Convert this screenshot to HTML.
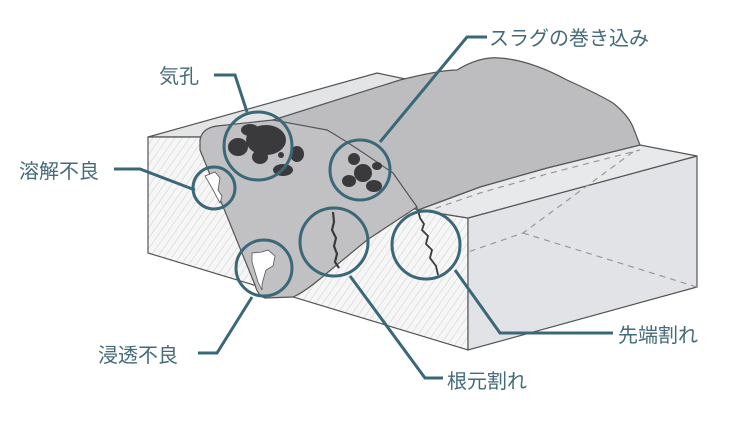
<!DOCTYPE html>
<html><head><meta charset="utf-8"><style>
html,body{margin:0;padding:0;background:#fff;}
svg{display:block;}
text{font-family:"Liberation Sans","Noto Sans CJK JP",sans-serif;font-size:20px;fill:#456b7a;}
</style></head><body>
<svg width="735" height="424" viewBox="0 0 735 424" xmlns="http://www.w3.org/2000/svg">
<defs>
<pattern id="h" patternUnits="userSpaceOnUse" width="6" height="6" patternTransform="rotate(35)">
<rect width="6" height="6" fill="#f6f6f6"/><line x1="0" y1="0" x2="0" y2="6" stroke="#d8d8d8" stroke-width="1.4"/>
</pattern>
</defs>
<polygon points="148,137 377,73 420,82 230,135 200,137" fill="#e3e4e6" stroke="#555" stroke-width="1.2"/>
<polygon points="148,137 200,137 418,210 468,218 468,350 148,253" fill="url(#h)" stroke="#555" stroke-width="1.2"/>
<polygon points="468,218 697,156 697,287 468,350" fill="#e2e3e6" stroke="#555" stroke-width="1.2"/>
<polygon points="418,210 468,218 697,156 640,145 547,168 480,187" fill="#e8e9eb" stroke="#555" stroke-width="1.2"/>
<g stroke="#999" stroke-width="1.2" stroke-dasharray="6,5" fill="none">
<path d="M425,212 L480,193 L547,174 L640,150"/>
<path d="M633,152 L523,233 L468,252"/>
<path d="M523,233 L697,287"/>
</g>
<path d="M217,135 L273,120 L400,80 Q440,70 457,70 Q480,56 500,58 Q530,60 567,80 Q600,95 613,103 Q628,115 633,127 L640,145 L547,168 L480,187 L418,210 L393,173 L340,140 L327,130 Z" fill="#bdbdbf" stroke="#555" stroke-width="1.2"/>
<path d="M200,140 Q202,128 217,126 L273,120 L327,130 Q345,140 393,173 L417,207 L367,240 L327,273 Q305,292 293,297 L265,298 Q258,296 255,285 L200,150 Z" fill="#c1c1c3" stroke="#555" stroke-width="1.2"/>
<g fill="#3a3a3c">
<ellipse cx="266" cy="140" rx="20" ry="15"/>
<ellipse cx="250" cy="130" rx="9" ry="6"/>
<ellipse cx="238" cy="147" rx="10" ry="9"/>
<ellipse cx="260" cy="157" rx="8" ry="7"/>
<ellipse cx="297" cy="154" rx="7" ry="8"/>
<ellipse cx="283" cy="170" rx="10" ry="6"/>
<ellipse cx="281" cy="155" rx="3" ry="3"/>
<ellipse cx="354" cy="159" rx="6" ry="6"/>
<ellipse cx="363" cy="173" rx="9" ry="9"/>
<ellipse cx="349" cy="181" rx="7" ry="6"/>
<ellipse cx="374" cy="186" rx="8" ry="6"/>
<ellipse cx="377" cy="166" rx="5" ry="4"/>
</g>
<path d="M205,176 L215,172 L220,178 L218,190 L222,196 L220,203 L212,188 Z" fill="#fff" stroke="#555" stroke-width="0.8"/>
<path d="M252,253 L262,252 L268,250 L275,256 L273,266 L266,270 L262,284 L262,290 L258,282 L252,262 Z" fill="#fff" stroke="#555" stroke-width="0.8"/>
<path d="M333,212 L334,222 L332,230 L336,238 L334,246 L337,254 L335,262 L339,268" fill="none" stroke="#3a3a3c" stroke-width="2.2"/>
<path d="M418,210 L420,218 L424,224 L422,230 L428,236 L426,244 L432,250 L430,258 L436,266 L438,275" fill="none" stroke="#3a3a3c" stroke-width="1.8"/>
<g fill="none" stroke="#3b6878" stroke-width="3">
<circle cx="258" cy="146" r="34"/>
<circle cx="360" cy="170" r="30"/>
<circle cx="214" cy="188" r="21"/>
<circle cx="264" cy="268" r="28"/>
<circle cx="334" cy="242" r="34"/>
<circle cx="426" cy="245" r="34"/>
<polyline points="214,75 235,75 247,112"/>
<polyline points="487,37 467,37 380,142"/>
<polyline points="114,169 140,169 195,190"/>
<polyline points="198,353 217,353 252,297"/>
<polyline points="443,378 425,378 350,276"/>
<polyline points="613,333 500,333 455,270"/>
</g>
<text x="159" y="83">気孔</text>
<text x="489" y="45">スラグの巻き込み</text>
<text x="19" y="178">溶解不良</text>
<text x="98" y="362">浸透不良</text>
<text x="447" y="388">根元割れ</text>
<text x="618" y="342">先端割れ</text>
</svg>
</body></html>
